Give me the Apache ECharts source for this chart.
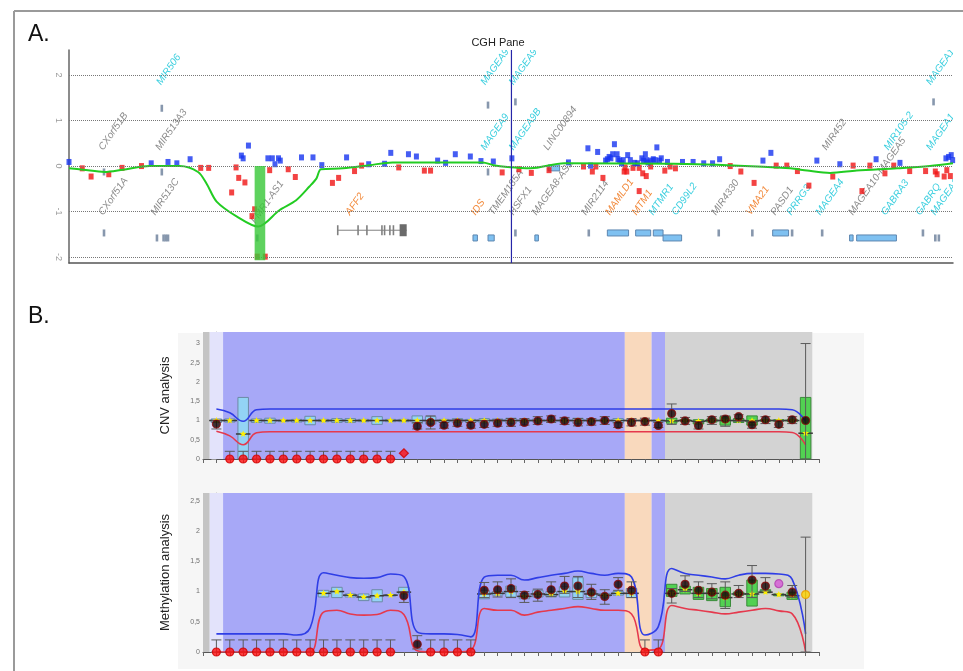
<!DOCTYPE html>
<html><head><meta charset="utf-8">
<script src="https://cdn.jsdelivr.net/npm/echarts@6/dist/echarts.min.js"></script>
<style>html,body{margin:0;padding:0;background:#fff}#c{width:963px;height:671px}</style>
</head><body><div id="c"></div>
<script>
// ---------------- Panel A : CGH pane ----------------
const cghTicks = [-2, -1, 0, 1, 2];
const cghBlueX = [0,9.3,11.2,12.2,13.7,19.5,19.7,20.3,22.5,23.0,23.3,23.7,23.9,26.3,27.6,28.6,31.4,33.9,35.7,36.4,38.4,39.3,41.7,42.6,43.7,45.4,46.6,48.0,
  50.1,56.5,58.7,59.8,59.0,60.7,60.9,61.1,61.3,61.5,61.7,62.0,62.1,62.3,62.5,62.7,63.2,63.5,64.0,64.3,64.8,65.0,65.2,65.3,65.5,65.8,66.1,66.3,66.5,66.8,67.0,67.7,69.4,70.6,71.8,72.8,73.6,78.5,79.4,84.6,87.2,91.3,94.0,99.2,99.5,99.8,99.96];
const cghBlueY = [0.09,0.06,0.09,0.06,0.15,0.23,0.17,0.45,0.17,0.17,0.04,0.17,0.12,0.19,0.19,0.02,0.19,0.04,0.05,0.29,0.26,0.21,0.12,0.07,0.26,0.21,0.11,0.10,
  0.17,0.08,0.39,0.31,0.01,0.12,0.15,0.20,0.17,0.26,0.48,0.26,0.15,0.12,0.06,0.13,0.24,0.13,0.07,0.06,0.17,0.12,0.26,0.13,0.08,0.12,0.15,0.13,0.41,0.12,0.17,0.09,0.09,0.09,0.06,0.06,0.15,0.12,0.29,0.12,0.04,0.15,0.07,0.17,0.20,0.24,0.13];
const cghRedX = [1.5,2.5,4.5,6.0,8.2,14.9,15.8,18.4,18.9,19.2,19.9,20.7,21.0,21.3,22.2,22.7,24.8,25.6,29.8,30.5,32.3,33.1,37.3,40.2,40.9,49.0,
  50.9,52.3,54.3,58.2,59.2,59.6,60.4,62.9,62.8,63.1,63.8,64.5,64.5,64.9,65.3,65.8,67.4,68.0,68.6,74.8,76.0,77.5,80.0,81.2,82.4,83.7,86.4,88.7,89.7,90.6,92.3,93.3,95.1,96.9,98.0,98.2,99.0,99.3,99.7];
const cghRedY = [-0.05,-0.23,-0.18,-0.04,0.0,-0.04,-0.04,-0.58,-0.03,-0.26,-0.36,-1.1,-0.95,-1.99,-1.99,-0.09,-0.07,-0.24,-0.37,-0.26,-0.11,0.01,-0.03,-0.10,-0.10,-0.14,
  -0.07,-0.15,-0.09,-0.01,-0.12,-0.01,-0.26,-0.03,-0.12,-0.12,-0.04,-0.04,-0.55,-0.16,-0.22,-0.01,-0.10,-0.01,-0.05,0.0,-0.12,-0.37,0.01,0.01,-0.11,-0.43,-0.23,0.01,-0.55,0.01,-0.16,0.01,-0.11,-0.11,-0.12,-0.18,-0.23,-0.09,-0.22];
const cghTrendX = [0,1.6,4.0,6.1,9.1,12.5,14.6,15.6,16.7,19.0,21.4,23.8,25.7,27.2,28.0,28.5,31.0,34.0,36.6,46.8,48.0,49.6,52.2,56.0,71.1,81.6,83.5,86.1,89.1,93.7,97.4,100];
const cghTrendY = [-0.05,-0.08,-0.13,-0.08,0.0,0.0,-0.13,-0.40,-0.78,-1.11,-1.33,-0.97,-0.75,-0.45,-0.27,-0.07,-0.05,0.02,0.08,0.08,0.02,-0.02,-0.05,0.06,0.04,-0.05,-0.10,-0.15,-0.10,-0.05,0.0,0.06];
const cghHighlightX = [21.0, 22.2];
const cghHighlightY = [0, -2.07];
const cghCursorX = [50.05];

const geneName = ['CXorf51B','CXorf51A','MIR506','MIR513A3','MIR513C','FMR1-AS1','AFF2','IDS','TMEM185A','MAGEA9','MAGEA9','MAGEA9','MAGEA9B','HSFX1','MAGEA8-AS1','LINC00894','MIR2114','MAMLD1','MTM1','MTMR1','CD99L2','MIR4330','VMA21','PASD1','PRRG3','MAGEA4','MIR452','MAGEA10-MAGEA5','GABRA3','MIR105-2','GABRQ','MAGEA1','MAGEA1','MAGEA1'];
const geneX = [4.07,4.07,10.6,10.5,9.95,21.3,32.0,46.2,48.2,47.3,47.3,50.5,50.5,50.5,53.1,54.4,58.7,61.4,64.4,66.3,68.9,73.4,77.3,80.1,81.9,85.2,85.9,88.9,92.6,92.9,96.5,98.2,97.7,97.7];
const geneY = [0.31,-1.12,1.74,0.31,-1.12,-1.30,-1.12,-1.12,-1.12,1.74,0.31,1.74,0.31,-1.12,-1.12,0.31,-1.12,-1.12,-1.12,-1.12,-1.12,-1.12,-1.12,-1.12,-1.12,-1.12,0.31,-1.12,-1.12,0.31,-1.12,-1.12,1.74,0.31];
const geneKind = ['other','other','disease','other','other','other','omim','omim','other','disease','disease','disease','disease','other','other','other','other','omim','omim','disease','disease','other','omim','other','disease','disease','other','other','disease','disease','disease','disease','disease','disease'];

// features: start, end, level, kind
const featStart = [3.96,10.5,10.5,3.96,9.95,10.7,10.95,11.2,21.3,30.4,30.4,32.7,33.7,35.4,35.7,36.3,36.7,37.4,45.7,47.4,47.4,47.4,50.5,50.5,52.7,54.2,58.8,60.9,64.1,66.1,67.2,73.5,77.3,79.6,81.8,85.2,88.3,89.1,96.6,98.0,98.4,97.8];
const featEnd   = [3.96,10.5,10.5,3.96,9.95,10.7,10.95,11.2,21.3,38.2,30.4,32.7,33.7,35.4,35.7,36.3,36.7,38.2,46.2,48.1,47.4,47.4,50.5,50.5,53.1,55.5,58.8,63.3,65.8,67.2,69.3,73.5,77.3,81.4,81.8,85.2,88.7,93.6,96.6,98.0,98.4,97.8];
const featY     = [-0.13,-0.13,1.27,-1.47,-1.58,-1.58,-1.58,-1.58,-1.58,-1.41,-1.41,-1.41,-1.41,-1.41,-1.41,-1.41,-1.41,-1.41,-1.58,-1.58,1.34,-0.13,1.41,-1.47,-1.58,-0.04,-1.47,-1.47,-1.47,-1.47,-1.58,-1.47,-1.47,-1.47,-1.47,-1.47,-1.58,-1.58,-1.47,-1.58,-1.58,1.41];
const featKind  = ['tick','tick','tick','tick','tick','tick','tick','tick','tick','intron','exon','exon','exon','exon','exon','exon','exon','utr','box','box','tick','tick','tick','tick','box','box','tick','box','box','box','box','tick','tick','box','tick','tick','box','box','tick','tick','tick','tick'];

// ---------------- Panel B : probes ----------------
const cnvTicks = [0, 0.5, 1, 1.5, 2, 2.5, 3];
const metTicks = [0, 0.5, 1, 1.5, 2, 2.5];
const bandFrom = [-1, -0.5, 0.5, 30.5, 32.5, 33.5];
const bandTo   = [-0.5, 0.5, 30.5, 32.5, 33.5, 44.5];
const bandType = ['edge', 'control', 'target', 'flank', 'target', 'outside'];

const cnvQ1 = [0.95,0.96,0.0,0.95,0.93,0.99,0.96,0.89,0.97,0.95,0.95,0.97,0.9,0.97,0.97,0.92,0.91,0.95,0.95,0.95,0.94,0.96,0.93,0.96,0.96,0.98,0.96,0.93,0.97,0.97,0.93,0.98,0.98,0.97,0.93,0.98,0.91,0.96,0.88,0.95,0.88,0.98,0.98,0.97,0.0];
const cnvQ3 = [1.04,1.04,1.6,1.04,1.06,1.01,1.03,1.11,1.03,1.05,1.05,1.03,1.1,1.03,1.03,1.12,1.1,1.03,1.05,1.03,1.05,1.04,1.06,1.03,1.04,1.02,1.04,1.06,1.03,1.03,1.05,1.02,1.02,1.01,1.06,1.02,1.02,1.04,1.1,1.05,1.12,1.02,1.02,1.03,1.6];
const cnvMed = [1.0,1.0,0.65,1.0,1.0,1.0,1.0,1.0,1.0,1.0,1.0,1.0,1.0,1.0,1.0,1.0,1.0,1.0,1.0,1.0,1.0,1.0,1.0,1.0,1.0,1.0,1.0,1.0,1.0,1.0,1.0,1.0,1.0,1.0,0.99,1.0,0.98,1.0,1.0,1.0,0.99,1.0,1.0,1.0,0.67];
const cnvPatient = [0.91,0,0,0,0,0,0,0,0,0,0,0,0,0,0.15,0.85,0.95,0.88,0.93,0.88,0.90,0.93,0.95,0.95,0.99,1.04,0.99,0.95,0.97,1.00,0.89,0.95,0.97,0.87,1.18,0.99,0.87,1.02,1.04,1.10,0.89,1.02,0.90,1.02,1.00];
const cnvCall = 'NLLLLLLLLLLLLLDNNNNNNNNNNNNNNNNNNNNNNNNNNNNNN'.split('');
const cnvErrLo = [0.78,0,0,0,0,0,0,0,0,0,0,0,0,0,null,0.78,0.78,0.8,0.85,0.8,0.82,0.85,0.85,0.88,0.9,0.95,0.9,0.86,0.88,0.9,0.82,0.86,0.88,0.82,0.9,0.9,0.78,0.9,0.85,0.98,0.8,0.92,0.82,0.92,0.0];
const cnvErrHi = [1.0,0.2,0.2,0.2,0.2,0.2,0.2,0.2,0.2,0.2,0.2,0.2,0.2,0.2,null,0.95,1.12,0.95,1.02,0.95,1.0,1.02,1.05,1.05,1.1,1.12,1.08,1.05,1.05,1.1,0.95,1.05,1.06,0.95,1.43,1.08,0.95,1.1,1.12,1.15,0.95,1.1,0.98,1.1,3.0];
const cnvUpper = [1.3,1.2,0.98,1.28,1.3,1.3,1.3,1.3,1.3,1.3,1.3,1.3,1.3,1.3,1.3,1.3,1.3,1.3,1.3,1.3,1.3,1.3,1.3,1.3,1.3,1.3,1.3,1.3,1.3,1.3,1.3,1.3,1.3,1.3,1.3,1.3,1.3,1.3,1.3,1.3,1.3,1.3,1.3,1.28,0.98];
const cnvLower = [0.72,0.6,0.37,0.68,0.71,0.71,0.71,0.71,0.71,0.71,0.71,0.71,0.71,0.71,0.71,0.71,0.71,0.71,0.71,0.71,0.71,0.71,0.71,0.71,0.71,0.71,0.71,0.71,0.71,0.71,0.71,0.71,0.71,0.71,0.71,0.71,0.71,0.71,0.71,0.71,0.71,0.71,0.71,0.69,0.37];

const metQ1 = [null,null,null,null,null,null,null,null,0.91,0.9,0.91,0.85,0.83,0.93,0.96,null,null,null,null,null,0.88,0.94,0.91,0.88,0.91,0.91,0.91,0.87,0.9,0.91,0.94,0.9,null,null,0.92,0.96,0.87,0.85,0.75,0.94,0.76,0.98,0.93,0.87,null];
const metQ3 = [null,null,null,null,null,null,null,null,1.02,1.07,0.96,0.96,1.03,0.95,1.07,null,null,null,null,null,1.02,1.0,1.09,0.97,1.02,1.0,1.08,1.23,1.02,0.97,1.0,1.05,null,null,1.12,1.09,1.07,1.05,1.07,0.99,1.19,1.03,0.96,0.99,null];
const metMed = [null,null,null,null,null,null,null,null,0.97,1.0,0.94,0.91,0.93,0.94,0.99,null,null,null,null,null,0.96,0.97,1.0,0.92,0.96,0.95,1.0,1.0,0.96,0.94,0.97,0.97,null,null,0.97,1.03,0.97,0.97,0.9,0.96,0.96,0.99,0.95,0.93,null];
const metPatient = [0,0,0,0,0,0,0,0,0,0,0,0,0,0,0.93,0.13,0,0,0,0,1.02,1.03,1.05,0.94,0.95,1.03,1.09,1.09,0.99,0.92,1.12,1.02,0,0,0.97,1.12,1.02,0.99,0.94,0.97,1.19,1.09,1.13,0.99,0.95];
const metCall = 'LLLLLLLLLLLLLLNNLLLLNNNNNNNNNNNNLLNNNNNNNNPNC'.split('');
const metErrLo = [0,0,0,0,0,0,0,0,0,0,0,0,0,0,0.82,0.05,0,0,0,0,0.9,0.91,0.9,0.82,0.84,0.92,0.97,0.9,0.87,0.79,1.02,0.9,0,0,0.81,1.0,0.9,0.88,0.72,0.9,0.9,1.01,null,0.9,0];
const metErrHi = [0.2,0.2,0.2,0.2,0.2,0.2,0.2,0.2,0.2,0.2,0.2,0.2,0.2,0.2,1.0,0.27,0.2,0.2,0.2,0.2,1.15,1.16,1.21,1.0,1.04,1.16,1.25,1.25,1.12,1.03,1.23,1.16,0.2,0.2,1.05,1.26,1.16,1.13,1.16,1.1,1.43,1.23,null,1.1,1.9];
const metUpper = [0.3,0.3,0.3,0.3,0.3,0.3,0.28,0.4,1.31,1.27,1.23,1.22,1.23,1.29,1.25,0.33,0.3,0.3,0.29,0.25,1.24,1.27,1.27,1.19,1.23,1.27,1.3,1.34,1.3,1.27,1.3,1.24,0.28,0.42,1.38,1.3,1.27,1.24,1.21,1.27,1.3,1.3,1.29,1.2,0.3];
const metLower = [0,0,0,0,0,0,0,0,0.66,0.69,0.63,0.61,0.62,0.69,0.62,0.02,0,0,0,0.03,0.72,0.69,0.69,0.61,0.66,0.69,0.72,0.75,0.72,0.69,0.69,0.63,0.03,0.05,0.77,0.72,0.69,0.66,0.63,0.66,0.69,0.72,0.68,0.63,0];

// ---------------- styles ----------------
const FONT = '"Liberation Sans", Arial, sans-serif';
const geneColor = {disease: '#3ccfdf', other: '#8c8c8c', omim: '#f28a3c'};
const bandColor = {edge: '#c4c4c4', control: '#e3e3fb', target: '#a7a8f7', flank: '#f9d9bd', outside: '#d3d3d3'};
const callStyle = {
  N: {symbol: 'circle', size: 8, color: '#140202', border: '#8a0c0c'},
  L: {symbol: 'circle', size: 8, color: '#ff0f0f', border: '#d00000'},
  D: {symbol: 'diamond', size: 9, color: '#ff0f0f', border: '#d00000'},
  P: {symbol: 'circle', size: 8, color: '#d65ad6', border: '#b040b0'},
  C: {symbol: 'circle', size: 8, color: '#ffd400', border: '#e89a00'}
};

function bandOf(i) {
  for (let k = bandFrom.length - 1; k >= 0; k--) if (i >= bandFrom[k] && i <= bandTo[k]) return bandType[k];
  return 'target';
}
function starPts(cx, cy, R, r) {
  const pts = [];
  for (let k = 0; k < 10; k++) {
    const a = -Math.PI / 2 + k * Math.PI / 5, rr = k % 2 ? r : R;
    pts.push([cx + rr * Math.cos(a), cy + rr * Math.sin(a)]);
  }
  return pts;
}

// ---------------- render functions ----------------
function renderGeneLabel(params, api) {
  const p = api.coord([api.value(0), api.value(1)]);
  const i = params.dataIndex;
  return {type: 'text', x: p[0], y: p[1], rotation: 55 * Math.PI / 180,
    style: {text: geneName[i], fill: geneColor[geneKind[i]], font: 'italic 10px ' + FONT, align: 'left', verticalAlign: 'bottom'}};
}
function renderFeature(params, api) {
  const i = params.dataIndex;
  const a = api.coord([api.value(0), api.value(2)]), b = api.coord([api.value(1), api.value(2)]);
  const k = featKind[i];
  if (k === 'tick') return {type: 'rect', shape: {x: a[0] - 1.3, y: a[1] - 3.5, width: 2.6, height: 7}, style: {fill: '#8797ad'}};
  if (k === 'box') return {type: 'rect', shape: {x: a[0], y: a[1] - 3, width: Math.max(b[0] - a[0], 3), height: 6}, style: {fill: '#7fc1f1', stroke: '#5d86b0', lineWidth: 1}};
  if (k === 'intron') return {type: 'line', shape: {x1: a[0], y1: a[1], x2: b[0], y2: b[1]}, style: {stroke: '#808080', lineWidth: 1}};
  if (k === 'exon') return {type: 'rect', shape: {x: a[0] - 0.8, y: a[1] - 5, width: 1.6, height: 10}, style: {fill: '#808080'}};
  return {type: 'rect', shape: {x: a[0], y: a[1] - 6, width: b[0] - a[0], height: 12}, style: {fill: '#6b6b6b'}};
}
function renderHighlight(params, api) {
  const a = api.coord([api.value(0), api.value(2)]), b = api.coord([api.value(1), api.value(3)]);
  return {type: 'rect', shape: {x: a[0], y: a[1], width: b[0] - a[0], height: b[1] - a[1]}, style: {fill: 'rgba(58,200,58,0.82)'}};
}
function renderCursor(params, api) {
  const a = api.coord([api.value(0), 0]);
  const cs = params.coordSys;
  return {type: 'line', shape: {x1: a[0], y1: cs.y, x2: a[0], y2: cs.y + cs.height}, style: {stroke: '#2626a8', lineWidth: 1.2}};
}
function renderBand(params, api) {
  const a = api.coord([api.value(0), 0]), b = api.coord([api.value(1), 0]);
  const cs = params.coordSys;
  return {type: 'rect', shape: {x: a[0], y: cs.y, width: b[0] - a[0], height: cs.height}, style: {fill: bandColor[bandType[params.dataIndex]]}};
}
function renderBox(params, api) {
  const i = api.value(0);
  const lo = api.coord([i, api.value(1)]), hi = api.coord([i, api.value(2)]), m = api.coord([i, api.value(3)]);
  const w = 10.5;
  const green = bandOf(i) === 'outside';
  return {type: 'group', children: [
    {type: 'rect', shape: {x: lo[0] - w / 2, y: hi[1], width: w, height: Math.max(lo[1] - hi[1], 1.5)},
      style: {fill: green ? '#52d152' : '#93d3f5', stroke: green ? '#3b8c3b' : '#6d8aa6', lineWidth: 1}},
    {type: 'line', shape: {x1: m[0] - w / 2 - 2, y1: m[1], x2: m[0] + w / 2 + 2, y2: m[1]}, style: {stroke: '#3a3a3a', lineWidth: 1.5}},
    {type: 'polygon', shape: {points: starPts(m[0], m[1], 3.6, 1.6)}, style: {fill: '#fff000'}}
  ]};
}
function renderWhisker(params, api) {
  const i = api.value(0);
  const a = api.coord([i, api.value(1)]), b = api.coord([i, api.value(2)]);
  const c = 5, st = {stroke: '#5a5a5a', lineWidth: 1};
  return {type: 'group', children: [
    {type: 'line', shape: {x1: a[0], y1: a[1], x2: b[0], y2: b[1]}, style: st},
    {type: 'line', shape: {x1: a[0] - c, y1: a[1], x2: a[0] + c, y2: a[1]}, style: st},
    {type: 'line', shape: {x1: b[0] - c, y1: b[1], x2: b[0] + c, y2: b[1]}, style: st}
  ]};
}

function boxData(q1, q3, med) {
  const out = [];
  q1.forEach((v, i) => { if (v !== null) out.push([i, v, q3[i], med[i]]); });
  return out;
}
function whiskerData(lo, hi) {
  const out = [];
  lo.forEach((v, i) => { if (v !== null && hi[i] !== null) out.push([i, v, hi[i]]); });
  return out;
}
function patientData(vals, calls) {
  return vals.map((v, i) => {
    const s = callStyle[calls[i]];
    return {value: [i, v], symbol: s.symbol, symbolSize: s.size, itemStyle: {color: s.color, borderColor: s.border, borderWidth: 1.2}};
  });
}
function lineData(vals) { return vals.map((v, i) => [i, v]); }

function probeAxes(gridIndex, ticks, max, name) {
  return {
    x: {type: 'value', gridIndex, min: -1, max: 45, interval: 1,
      axisLine: {show: true, onZero: false, lineStyle: {color: '#555', width: 1}},
      axisTick: {show: true, length: 4, lineStyle: {color: '#666'}},
      axisLabel: {show: false}, splitLine: {show: false}},
    y: {type: 'value', gridIndex, min: 0, max,
      name, nameLocation: 'middle', nameGap: 31, nameRotate: 90,
      nameTextStyle: {fontFamily: FONT, fontSize: 13, color: '#222'},
      axisLine: {show: true, lineStyle: {color: '#b0b0b0'}},
      axisTick: {show: true, length: 5, customValues: ticks, lineStyle: {color: '#9a9a9a'}},
      axisLabel: {customValues: ticks, fontSize: 7, color: '#707070', fontFamily: FONT, margin: 3,
        formatter: v => String(v).replace('.', ',')},
      splitLine: {show: false}}
  };
}
const cnvAx = probeAxes(1, cnvTicks, 3.3, 'CNV analysis');
const metAx = probeAxes(2, metTicks, 2.63, 'Methylation analysis');

function probeSeries(ax, q1, q3, med, upper, lower, lo, hi, pat, calls) {
  return [
    {type: 'custom', xAxisIndex: ax, yAxisIndex: ax, z: 1, silent: true, renderItem: renderBand,
      data: bandFrom.map((f, i) => [f, bandTo[i]]), encode: {x: [0, 1]}},
    {type: 'custom', xAxisIndex: ax, yAxisIndex: ax, z: 3, silent: true, renderItem: renderBox,
      data: boxData(q1, q3, med), encode: {x: 0, y: [1, 2]}},
    {type: 'line', xAxisIndex: ax, yAxisIndex: ax, z: 4, data: lineData(upper), smooth: 0.45, symbol: 'none',
      lineStyle: {color: '#2f3ee6', width: 1.6}},
    {type: 'line', xAxisIndex: ax, yAxisIndex: ax, z: 4, data: lineData(lower), smooth: 0.45, symbol: 'none',
      lineStyle: {color: '#e5394d', width: 1.6}},
    {type: 'custom', xAxisIndex: ax, yAxisIndex: ax, z: 5, silent: true, renderItem: renderWhisker,
      data: whiskerData(lo, hi), encode: {x: 0, y: [1, 2]}},
    {type: 'scatter', xAxisIndex: ax, yAxisIndex: ax, z: 6, data: patientData(pat, calls), clip: false}
  ];
}

const option = {
  animation: false,
  backgroundColor: '#ffffff',
  graphic: [
    {type: 'rect', z: 0, silent: true, shape: {x: 178, y: 333, width: 686, height: 336}, style: {fill: '#f6f6f6'}},
    {type: 'line', z: 10, shape: {x1: 14, y1: 11, x2: 963, y2: 11}, style: {stroke: '#9a9a9a', lineWidth: 2}},
    {type: 'line', z: 10, shape: {x1: 14, y1: 11, x2: 14, y2: 671}, style: {stroke: '#9a9a9a', lineWidth: 2}},
    {type: 'text', z: 10, x: 28, y: 23, style: {text: 'A.', font: '23px ' + FONT, fill: '#111', verticalAlign: 'top'}},
    {type: 'text', z: 10, x: 28, y: 305, style: {text: 'B.', font: '23px ' + FONT, fill: '#111', verticalAlign: 'top'}},
    {type: 'text', z: 10, x: 498, y: 37, style: {text: 'CGH Pane', font: '11px ' + FONT, fill: '#222', align: 'center', verticalAlign: 'top'}}
  ],
  grid: [
    {left: 69, top: 50, width: 884, height: 213},
    {left: 203, top: 332, width: 616, height: 127},
    {left: 203, top: 493, width: 616, height: 159}
  ],
  xAxis: [
    {type: 'value', gridIndex: 0, min: 0, max: 100,
      axisLine: {show: true, onZero: false, lineStyle: {color: '#555', width: 1.5}},
      axisTick: {show: false}, axisLabel: {show: false}, splitLine: {show: false}},
    cnvAx.x, metAx.x
  ],
  yAxis: [
    {type: 'value', gridIndex: 0, min: -2.13, max: 2.55,
      axisLine: {show: true, lineStyle: {color: '#666', width: 1.5}},
      axisTick: {show: false},
      axisLabel: {customValues: cghTicks, rotate: -90, fontSize: 9, color: '#9a9a9a', fontFamily: FONT, margin: 6},
      splitLine: {show: false}},
    cnvAx.y, metAx.y
  ],
  series: [
    {type: 'custom', xAxisIndex: 0, yAxisIndex: 0, z: 2, clip: true, silent: true, renderItem: renderFeature,
      data: featStart.map((s, i) => [s, featEnd[i], featY[i]]), encode: {x: [0, 1], y: 2}},
    {type: 'custom', xAxisIndex: 0, yAxisIndex: 0, z: 2, clip: true, silent: true, renderItem: renderGeneLabel,
      data: geneX.map((x, i) => [x, geneY[i]]), encode: {x: 0, y: 1}},
    {type: 'scatter', xAxisIndex: 0, yAxisIndex: 0, z: 3, symbol: 'rect', symbolSize: [5, 6],
      itemStyle: {color: '#f01414'}, data: cghRedX.map((x, i) => [x, cghRedY[i]]),
      markLine: {silent: true, symbol: 'none', label: {show: false},
        lineStyle: {type: 'dotted', color: '#777', width: 1}, data: cghTicks.map(v => ({yAxis: v}))}},
    {type: 'scatter', xAxisIndex: 0, yAxisIndex: 0, z: 3, symbol: 'rect', symbolSize: [5, 6],
      itemStyle: {color: '#1634f0'}, data: cghBlueX.map((x, i) => [x, cghBlueY[i]])},
    {type: 'line', xAxisIndex: 0, yAxisIndex: 0, z: 4, symbol: 'none', smooth: 0.3,
      lineStyle: {color: '#22cc22', width: 2}, data: cghTrendX.map((x, i) => [x, cghTrendY[i]])},
    {type: 'custom', xAxisIndex: 0, yAxisIndex: 0, z: 5, silent: true, renderItem: renderHighlight,
      data: [[cghHighlightX[0], cghHighlightX[1], cghHighlightY[0], cghHighlightY[1]]], encode: {x: [0, 1], y: [2, 3]}},
    {type: 'custom', xAxisIndex: 0, yAxisIndex: 0, z: 5, silent: true, renderItem: renderCursor,
      data: cghCursorX.map(x => [x]), encode: {x: 0}},
    ...probeSeries(1, cnvQ1, cnvQ3, cnvMed, cnvUpper, cnvLower, cnvErrLo, cnvErrHi, cnvPatient, cnvCall),
    ...probeSeries(2, metQ1, metQ3, metMed, metUpper, metLower, metErrLo, metErrHi, metPatient, metCall)
  ]
};
const chart = echarts.init(document.getElementById('c'), null, {renderer: 'canvas'});
chart.setOption(option);
</script></body></html>
